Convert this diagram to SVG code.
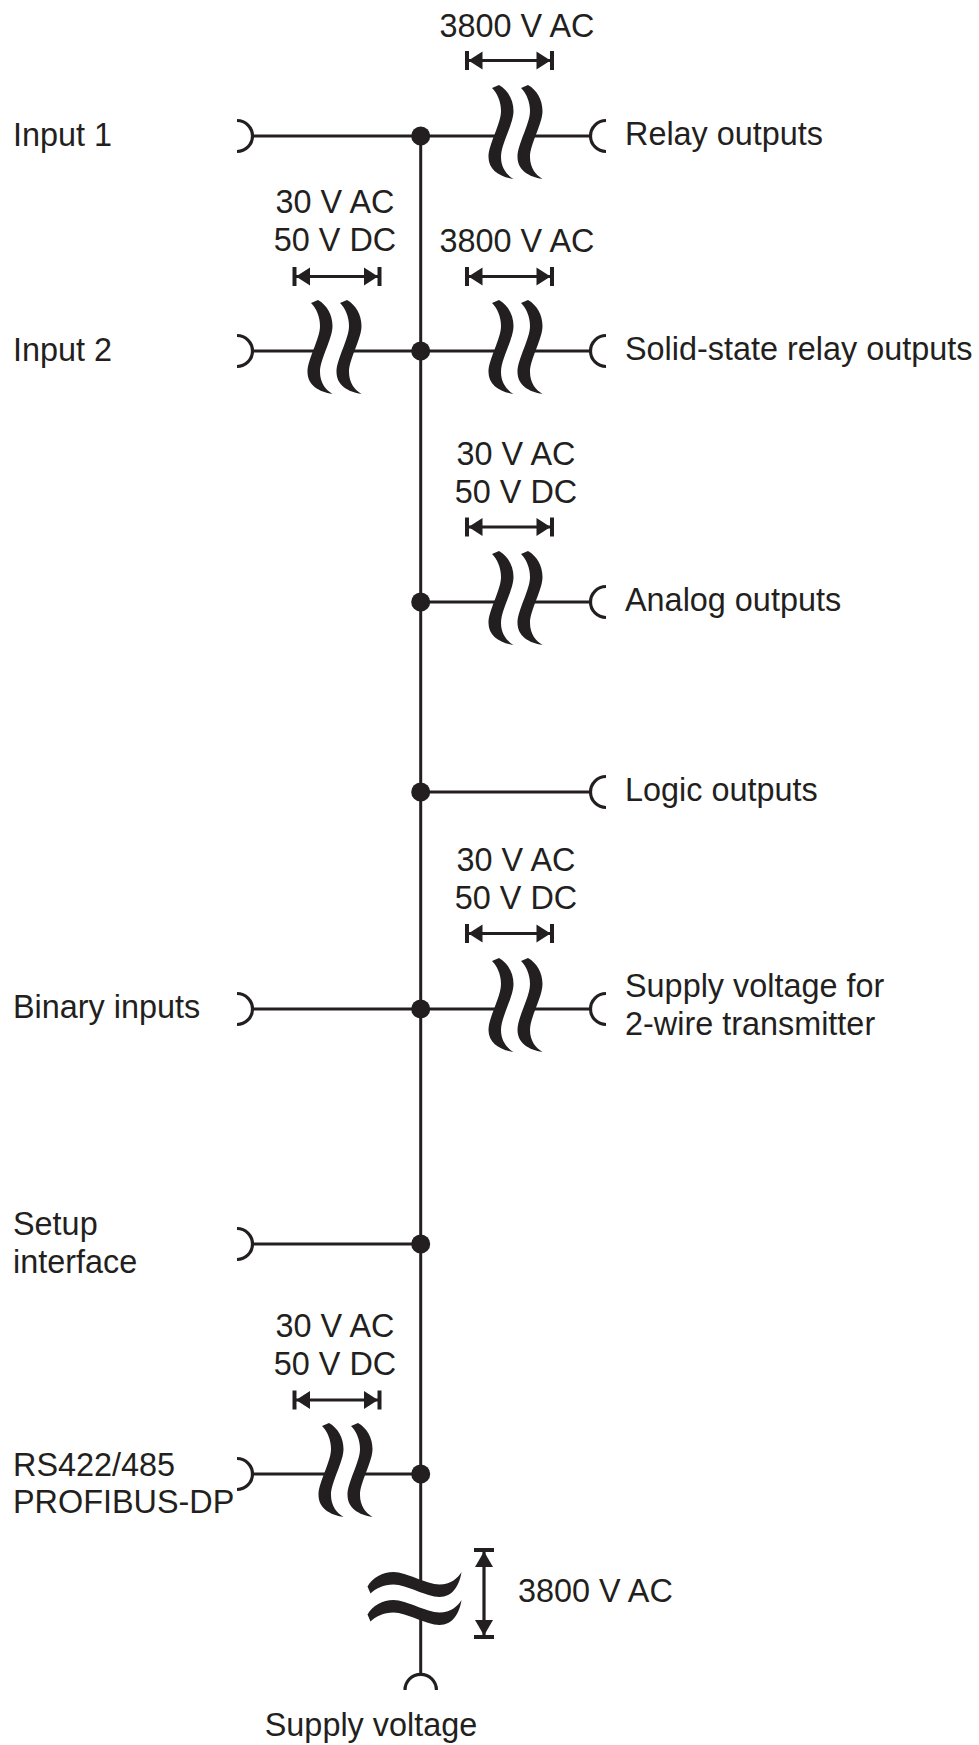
<svg xmlns="http://www.w3.org/2000/svg" xmlns:xlink="http://www.w3.org/1999/xlink" width="979" height="1745" viewBox="0 0 979 1745">
<style>
.ln{stroke:#231f20;stroke-width:3;fill:none}
.term{stroke:#231f20;stroke-width:3.2;fill:none}
.ink{fill:#231f20;stroke:none}
.txt{font-family:"Liberation Sans",Arial,Helvetica,sans-serif;font-size:32.4px;fill:#231f20}
.mid{text-anchor:middle}
</style>
<defs>
<path id="wave" d="M -47,2 C -42,-7 -32,-12.5 -21,-12.5 C -8,-12.5 12,0 25,0 C 36,0 43,-6 47,-12.5 C 45,1 38,12.5 25,12.5 C 12,12.5 -8,0 -21,0 C -31,0 -39,4 -44,9 Z"/>
<g id="pairV" class="ink">
<use xlink:href="#wave" href="#wave" transform="translate(-14.5,0) rotate(90)"/>
<use xlink:href="#wave" href="#wave" transform="translate(14.5,0) rotate(90)"/>
</g>
<g id="dimH">
<line x1="-42.5" y1="0" x2="42.5" y2="0" stroke="#231f20" stroke-width="3.2"/>
<line x1="-42.5" y1="-9.5" x2="-42.5" y2="9.5" stroke="#231f20" stroke-width="4"/>
<line x1="42.5" y1="-9.5" x2="42.5" y2="9.5" stroke="#231f20" stroke-width="4"/>
<polygon class="ink" points="-41,0 -27,-9 -27,9"/>
<polygon class="ink" points="41,0 27,-9 27,9"/>
</g>
<path id="termL" class="term" d="M 0,-15.5 A 15.5,15.5 0 0 1 0,15.5"/>
<path id="termR" class="term" d="M 0,-15.5 A 15.5,15.5 0 0 0 0,15.5"/>
</defs>

<g id="connectors">
<line class="ln" x1="420.7" y1="136" x2="420.7" y2="1585"/>
<line class="ln" x1="420.7" y1="1613" x2="420.7" y2="1674.5"/>
<line class="ln" x1="252.5" y1="136" x2="420.7" y2="136"/>
<line class="ln" x1="420.7" y1="136" x2="501" y2="136"/>
<line class="ln" x1="530" y1="136" x2="590.5" y2="136"/>
<line class="ln" x1="252.5" y1="351" x2="320" y2="351"/>
<line class="ln" x1="349" y1="351" x2="420.7" y2="351"/>
<line class="ln" x1="420.7" y1="351" x2="501" y2="351"/>
<line class="ln" x1="530" y1="351" x2="590.5" y2="351"/>
<line class="ln" x1="420.7" y1="602" x2="501" y2="602"/>
<line class="ln" x1="530" y1="602" x2="590.5" y2="602"/>
<line class="ln" x1="420.7" y1="792" x2="590.5" y2="792"/>
<line class="ln" x1="252.5" y1="1009" x2="420.7" y2="1009"/>
<line class="ln" x1="420.7" y1="1009" x2="501" y2="1009"/>
<line class="ln" x1="530" y1="1009" x2="590.5" y2="1009"/>
<line class="ln" x1="252.5" y1="1244" x2="420.7" y2="1244"/>
<line class="ln" x1="252.5" y1="1474" x2="331" y2="1474"/>
<line class="ln" x1="360" y1="1474" x2="420.7" y2="1474"/>
<g class="ink">
<circle cx="420.7" cy="136" r="9.5"/>
<circle cx="420.7" cy="351" r="9.5"/>
<circle cx="420.7" cy="602" r="9.5"/>
<circle cx="420.7" cy="792" r="9.5"/>
<circle cx="420.7" cy="1009" r="9.5"/>
<circle cx="420.7" cy="1244" r="9.5"/>
<circle cx="420.7" cy="1474" r="9.5"/>
</g>
</g>

<g id="input1">
<use xlink:href="#termL" href="#termL" x="237" y="136"/>
<text class="txt" x="13" y="146">Input 1</text>
</g>
<g id="input2">
<use xlink:href="#termL" href="#termL" x="237" y="351"/>
<text class="txt" x="13" y="361">Input 2</text>
</g>
<g id="binary-inputs">
<use xlink:href="#termL" href="#termL" x="237" y="1009"/>
<text class="txt" x="13" y="1018">Binary inputs</text>
</g>
<g id="setup-interface">
<use xlink:href="#termL" href="#termL" x="237" y="1244"/>
<text class="txt" x="13" y="1235">Setup</text>
<text class="txt" x="13" y="1273">interface</text>
</g>
<g id="rs422">
<use xlink:href="#termL" href="#termL" x="237" y="1474"/>
<text class="txt" x="13" y="1476">RS422/485</text>
<text class="txt" x="13" y="1513">PROFIBUS-DP</text>
</g>

<g id="relay-outputs">
<use xlink:href="#termR" href="#termR" x="606" y="136"/>
<text class="txt" x="625" y="145">Relay outputs</text>
</g>
<g id="ssr-outputs">
<use xlink:href="#termR" href="#termR" x="606" y="351"/>
<text class="txt" x="625" y="360">Solid-state relay outputs</text>
</g>
<g id="analog-outputs">
<use xlink:href="#termR" href="#termR" x="606" y="602"/>
<text class="txt" x="625" y="611">Analog outputs</text>
</g>
<g id="logic-outputs">
<use xlink:href="#termR" href="#termR" x="606" y="792"/>
<text class="txt" x="625" y="801">Logic outputs</text>
</g>
<g id="transmitter-supply">
<use xlink:href="#termR" href="#termR" x="606" y="1009"/>
<text class="txt" x="625" y="997">Supply voltage for</text>
<text class="txt" x="625" y="1035">2-wire transmitter</text>
</g>
<g id="supply-voltage">
<path class="term" d="M 405,1690 A 15.7,15.7 0 0 1 436.4,1690"/>
<text class="txt mid" x="371" y="1736">Supply voltage</text>
</g>

<g id="iso-relay">
<text class="txt mid" x="517" y="37">3800 V AC</text>
<use xlink:href="#dimH" href="#dimH" transform="translate(509.5,60.5)"/>
<use xlink:href="#pairV" href="#pairV" transform="translate(515.5,132)"/>
</g>
<g id="iso-ssr">
<text class="txt mid" x="517" y="252">3800 V AC</text>
<use xlink:href="#dimH" href="#dimH" transform="translate(509.5,276.5)"/>
<use xlink:href="#pairV" href="#pairV" transform="translate(515.5,347)"/>
</g>
<g id="iso-input2">
<text class="txt mid" x="335" y="213">30 V AC</text>
<text class="txt mid" x="335" y="251">50 V DC</text>
<use xlink:href="#dimH" href="#dimH" transform="translate(337,276.5)"/>
<use xlink:href="#pairV" href="#pairV" transform="translate(334.5,347)"/>
</g>
<g id="iso-analog">
<text class="txt mid" x="516" y="465">30 V AC</text>
<text class="txt mid" x="516" y="503">50 V DC</text>
<use xlink:href="#dimH" href="#dimH" transform="translate(509.5,527)"/>
<use xlink:href="#pairV" href="#pairV" transform="translate(515.5,598)"/>
</g>
<g id="iso-binary">
<text class="txt mid" x="516" y="871">30 V AC</text>
<text class="txt mid" x="516" y="909">50 V DC</text>
<use xlink:href="#dimH" href="#dimH" transform="translate(509.5,933.5)"/>
<use xlink:href="#pairV" href="#pairV" transform="translate(515.5,1005)"/>
</g>
<g id="iso-rs422">
<text class="txt mid" x="335" y="1337">30 V AC</text>
<text class="txt mid" x="335" y="1375">50 V DC</text>
<use xlink:href="#dimH" href="#dimH" transform="translate(337,1400)"/>
<use xlink:href="#pairV" href="#pairV" transform="translate(345.5,1470)"/>
</g>
<g id="iso-supply">
<use class="ink" xlink:href="#wave" href="#wave" transform="translate(414.5,1584.5)"/>
<use class="ink" xlink:href="#wave" href="#wave" transform="translate(414.5,1612.5)"/>
<line x1="484" y1="1550" x2="484" y2="1637" stroke="#231f20" stroke-width="3.2"/>
<line x1="474" y1="1550" x2="494" y2="1550" stroke="#231f20" stroke-width="4"/>
<line x1="474" y1="1637" x2="494" y2="1637" stroke="#231f20" stroke-width="4"/>
<polygon class="ink" points="484,1551.5 475,1567 493,1567"/>
<polygon class="ink" points="484,1635.5 475,1620 493,1620"/>
<text class="txt" x="518" y="1602">3800 V AC</text>
</g>
</svg>
